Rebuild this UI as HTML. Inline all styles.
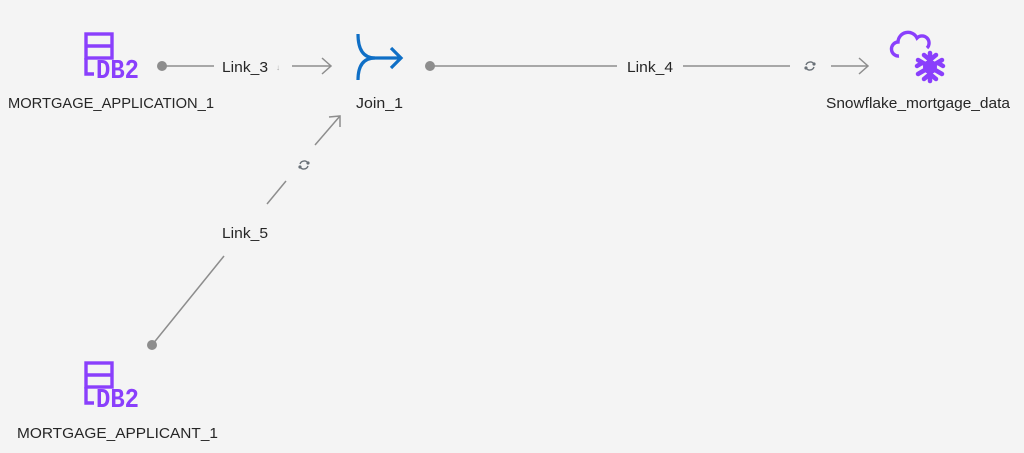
<!DOCTYPE html>
<html><head><meta charset="utf-8"><style>
html,body{margin:0;padding:0;background:#f4f4f4;}
svg{display:block;}
text{font-family:"Liberation Sans",sans-serif;font-size:14.5px;fill:#262626;}
</style></head><body>
<svg width="1024" height="453" viewBox="0 0 1024 453" xmlns="http://www.w3.org/2000/svg">
<rect width="1024" height="453" fill="#f4f4f4"/>
<defs>
<g id="db2" fill="none" stroke="#8a3ffc" stroke-width="3.4">
  <rect x="86" y="34" width="26" height="24"/>
  <line x1="86" y1="46" x2="112" y2="46"/>
  <polyline points="86,58 86,74 94,74"/>
  <text x="96" y="78" style="font-family:'Liberation Mono',monospace;font-size:27px;font-weight:bold;fill:#8a3ffc;stroke:none" textLength="43" lengthAdjust="spacingAndGlyphs">DB2</text>
</g>
<g id="ref" fill="none" stroke="#697077" stroke-width="1.4">
  <path d="M-4,-1 A4.5,4.5 0 0 1 4,-2"/>
  <path d="M4,1 A4.5,4.5 0 0 1 -4,2"/>
  <circle cx="4" cy="-2" r="0.9" fill="#697077"/>
  <circle cx="-4" cy="2" r="0.9" fill="#697077"/>
</g>
</defs>
<g stroke="#8d8d8d" stroke-width="1.5" fill="none">
  <line x1="162" y1="66" x2="214" y2="66"/>
  <line x1="292" y1="66" x2="331" y2="66"/>
  <polyline points="322,58 331,66 322,74"/>
  <line x1="430" y1="66" x2="617" y2="66"/>
  <line x1="683" y1="66" x2="790" y2="66"/>
  <line x1="831" y1="66" x2="868" y2="66"/>
  <polyline points="859,58 868,66 859,74"/>
  <line x1="152" y1="345" x2="224" y2="256"/>
  <line x1="267" y1="204" x2="286" y2="181"/>
  <line x1="315" y1="145" x2="340" y2="116"/>
  <polyline points="329,117 340,116 340,127"/>
</g>
<circle cx="162" cy="66" r="5" fill="#8d8d8d"/>
<circle cx="430" cy="66" r="5" fill="#8d8d8d"/>
<circle cx="152" cy="345" r="5" fill="#8d8d8d"/>
<text x="222" y="72" textLength="46" lengthAdjust="spacingAndGlyphs">Link_3</text>
<text x="276" y="70" style="font-size:8px;fill:#a8a8a8">↓</text>
<text x="627" y="72" textLength="46" lengthAdjust="spacingAndGlyphs">Link_4</text>
<text x="222" y="238" textLength="46" lengthAdjust="spacingAndGlyphs">Link_5</text>
<use href="#ref" x="810" y="66"/>
<use href="#ref" x="304" y="165"/>
<use href="#db2"/>
<use href="#db2" y="329"/>
<text x="8" y="108" textLength="206" lengthAdjust="spacingAndGlyphs">MORTGAGE_APPLICATION_1</text>
<text x="17" y="438" textLength="201" lengthAdjust="spacingAndGlyphs">MORTGAGE_APPLICANT_1</text>
<g fill="none" stroke="#0f6fc6" stroke-width="3.2">
  <path d="M358,34 Q358,58 375,58"/>
  <path d="M358,80 Q358,58 375,58"/>
  <line x1="375" y1="58" x2="401" y2="58"/>
  <polyline points="391,48 401,58 391,68"/>
</g>
<text x="356" y="108" textLength="47" lengthAdjust="spacingAndGlyphs">Join_1</text>
<g fill="none" stroke="#8a3ffc" stroke-width="3.4">
  <path d="M899,56 A7,7 0 0 1 898,42 A10,10 0 0 1 917,38 A7,7 0 0 1 927,48"/>
</g>
<g stroke="#8a3ffc" stroke-width="4.5" stroke-linecap="round" fill="none">
  <line x1="930" y1="53" x2="930" y2="81"/>
  <line x1="918" y1="60" x2="942" y2="74"/>
  <line x1="918" y1="74" x2="942" y2="60"/>
  <polyline points="924,55 930,60 936,55"/>
  <polyline points="924,79 930,74 936,79"/>
  <polyline points="917,66 922,63"/>
  <polyline points="943,66 938,63"/>
</g>
<circle cx="930" cy="67" r="7" fill="#8a3ffc"/>
<text x="826" y="108" textLength="184" lengthAdjust="spacingAndGlyphs">Snowflake_mortgage_data</text>
</svg>
</body></html>
